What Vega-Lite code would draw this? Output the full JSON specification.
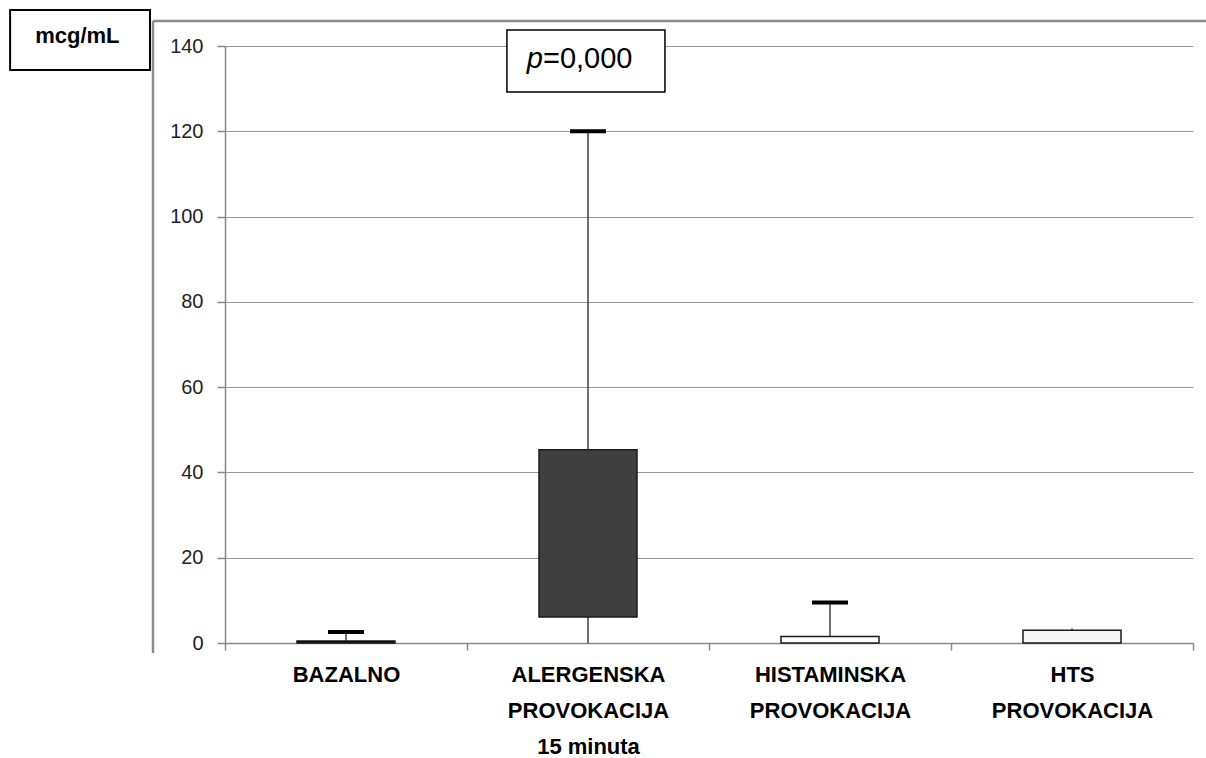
{
  "$schema": "https://vega.github.io/schema/vega-lite/v6.json",
  "width": 968,
  "height": 597,
  "autosize": {"type": "none"},
  "padding": {"left": 225, "top": 46, "right": 13, "bottom": 115},
  "background": "white",
  "config": {"view": {"stroke": null}, "font": "Liberation Sans"},
  "resolve": {"scale": {"x": "independent"}, "axis": {"x": "independent", "y": "independent"}},
  "layer": [
    {
      "data": {"values": [{}]},
      "mark": {"type": "rule", "color": "#8c8c8c", "strokeWidth": 2.5},
      "encoding": {
        "x": {"datum": -0.2975, "type": "quantitative", "scale": {"domain": [0, 4], "nice": false}, "axis": null},
        "y": {"datum": -2.35, "type": "quantitative", "scale": {"domain": [0, 140], "nice": false}, "axis": null},
        "y2": {"datum": 145.87}
      }
    },
    {
      "data": {"values": [{}]},
      "mark": {"type": "rule", "color": "#8c8c8c", "strokeWidth": 2.5},
      "encoding": {
        "x": {"datum": -0.2975, "type": "quantitative", "scale": {"domain": [0, 4], "nice": false}, "axis": null},
        "x2": {"datum": 4.1},
        "y": {"datum": 145.87, "type": "quantitative", "scale": {"domain": [0, 140], "nice": false}, "axis": null}
      }
    },
    {
      "data": {"values": [
        {"group": "BAZALNO", "lower": 0, "q1": 0, "q3": 0.45, "upper": 2.6, "cap": true},
        {"group": "ALERGENSKA|PROVOKACIJA|15 minuta", "lower": 0, "q1": 6.1, "q3": 45.3, "upper": 120, "cap": true},
        {"group": "HISTAMINSKA|PROVOKACIJA", "lower": 0, "q1": 0, "q3": 1.5, "upper": 9.5, "cap": true},
        {"group": "HTS|PROVOKACIJA", "lower": 0, "q1": 0, "q3": 3.0, "upper": 3.4, "cap": false}
      ]},
      "encoding": {
        "x": {
          "field": "group", "type": "nominal", "sort": null,
          "scale": {"paddingInner": 0, "paddingOuter": 0},
          "axis": {
            "title": null, "labelAngle": 0,
            "labelExpr": "split(datum.label, '|')",
            "labelFont": "Liberation Sans", "labelFontWeight": "bold", "labelFontSize": 22,
            "labelColor": "black", "labelLineHeight": 36, "labelPadding": 14,
            "tickBand": "extent", "tickSize": 7, "tickColor": "#888", "tickWidth": 1.5,
            "domainColor": "#888", "domainWidth": 1.5, "grid": false
          }
        }
      },
      "layer": [
        {
          "mark": {"type": "rule", "color": "#404040", "strokeWidth": 1.5},
          "encoding": {
            "y": {
              "field": "lower", "type": "quantitative",
              "scale": {"domain": [0, 140], "nice": false},
              "axis": {
                "title": null, "values": [0, 20, 40, 60, 80, 100, 120, 140],
                "labelFont": "Liberation Sans", "labelFontSize": 20, "labelColor": "#222",
                "labelPadding": 14, "tickSize": 8, "tickColor": "#888", "tickWidth": 1.5,
                "domainColor": "#888", "domainWidth": 1.5,
                "grid": true, "gridColor": "#999", "gridWidth": 1.2
              }
            },
            "y2": {"field": "upper"}
          }
        },
        {
          "mark": {"type": "bar", "width": {"band": 0.405}, "stroke": "#1a1a1a", "strokeWidth": 1.5, "opacity": 1},
          "encoding": {
            "y": {"field": "q1", "type": "quantitative"},
            "y2": {"field": "q3"},
            "fill": {
              "field": "group", "type": "nominal", "legend": null,
              "scale": {
                "domain": ["BAZALNO", "ALERGENSKA|PROVOKACIJA|15 minuta", "HISTAMINSKA|PROVOKACIJA", "HTS|PROVOKACIJA"],
                "range": ["#000000", "#404040", "#ffffff", "#f7f7f7"]
              }
            }
          }
        },
        {
          "transform": [{"filter": "datum.cap"}],
          "mark": {"type": "tick", "color": "black", "opacity": 1, "thickness": 4, "size": 36},
          "encoding": {"y": {"field": "upper", "type": "quantitative"}}
        }
      ]
    },
    {
      "data": {"values": [{}]},
      "mark": {"type": "rect", "fill": "white", "stroke": "black", "strokeWidth": 1.5},
      "encoding": {
        "x": {"datum": 1.165, "type": "quantitative", "scale": {"domain": [0, 4], "nice": false}, "axis": null},
        "x2": {"datum": 1.818},
        "y": {"datum": 143.75, "type": "quantitative", "scale": {"domain": [0, 140], "nice": false}, "axis": null},
        "y2": {"datum": 129.2}
      }
    },
    {
      "data": {"values": [{"t": "p"}]},
      "mark": {"type": "text", "fontSize": 29, "fontStyle": "italic", "align": "right", "baseline": "alphabetic", "color": "black"},
      "encoding": {
        "x": {"datum": 1.314, "type": "quantitative", "scale": {"domain": [0, 4], "nice": false}, "axis": null},
        "y": {"datum": 134.84, "type": "quantitative", "scale": {"domain": [0, 140], "nice": false}, "axis": null},
        "text": {"field": "t"}
      }
    },
    {
      "data": {"values": [{"t": "=0,000"}]},
      "mark": {"type": "text", "fontSize": 29, "align": "left", "baseline": "alphabetic", "color": "black"},
      "encoding": {
        "x": {"datum": 1.314, "type": "quantitative", "scale": {"domain": [0, 4], "nice": false}, "axis": null},
        "y": {"datum": 134.84, "type": "quantitative", "scale": {"domain": [0, 140], "nice": false}, "axis": null},
        "text": {"field": "t"}
      }
    },
    {
      "data": {"values": [{}]},
      "mark": {"type": "rect", "fill": "white", "stroke": "black", "strokeWidth": 2},
      "encoding": {
        "x": {"datum": -0.888, "type": "quantitative", "scale": {"domain": [0, 4], "nice": false}, "axis": null},
        "x2": {"datum": -0.31},
        "y": {"datum": 148.44, "type": "quantitative", "scale": {"domain": [0, 140], "nice": false}, "axis": null},
        "y2": {"datum": 134.37}
      }
    },
    {
      "data": {"values": [{"t": "mcg/mL"}]},
      "mark": {"type": "text", "fontSize": 22, "fontWeight": "bold", "align": "center", "baseline": "alphabetic", "color": "black"},
      "encoding": {
        "x": {"datum": -0.61, "type": "quantitative", "scale": {"domain": [0, 4], "nice": false}, "axis": null},
        "y": {"datum": 140.7, "type": "quantitative", "scale": {"domain": [0, 140], "nice": false}, "axis": null},
        "text": {"field": "t"}
      }
    }
  ]
}
